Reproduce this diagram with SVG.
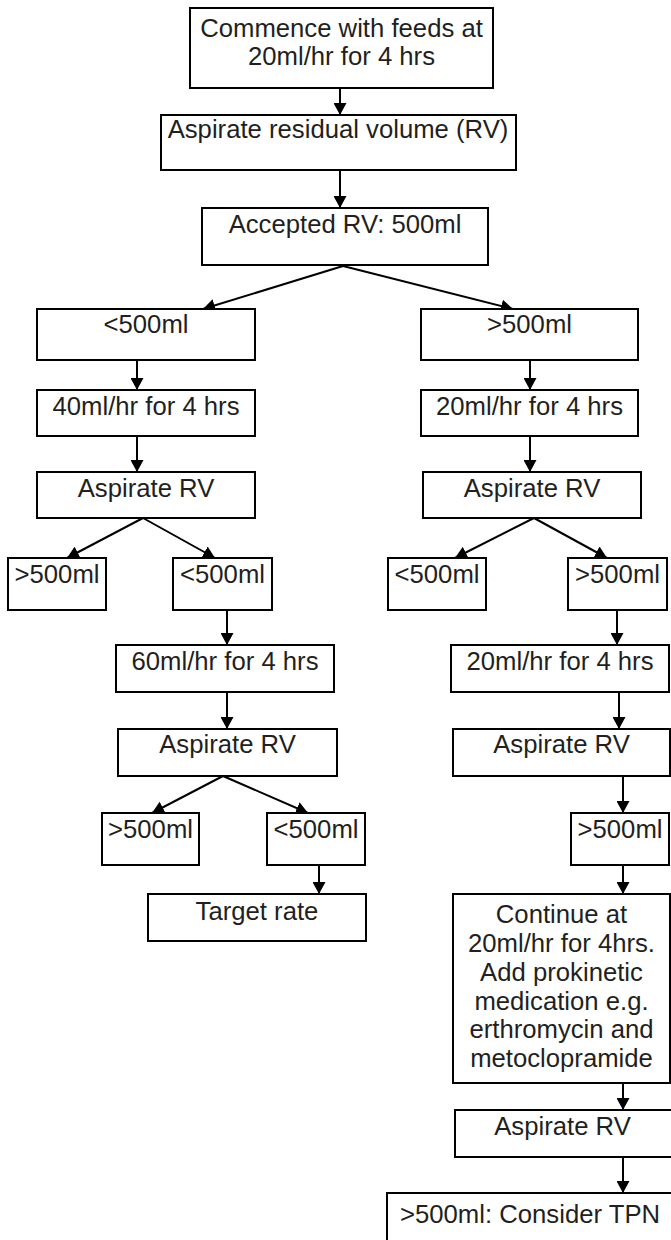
<svg xmlns="http://www.w3.org/2000/svg" width="671" height="1240" viewBox="0 0 671 1240">
<style>
.b{fill:#fff;stroke:#000;stroke-width:2}
.t{font-family:"Liberation Sans",Arial,sans-serif;font-size:25.7px;fill:#231f20;text-anchor:middle}
.c{stroke:#000;stroke-width:2;fill:none;marker-end:url(#ah)}
</style>
<defs>
<marker id="ah" markerUnits="userSpaceOnUse" markerWidth="13" markerHeight="13" refX="12" refY="6.5" orient="auto">
<path d="M0,0 L12,6.5 L0,13 z" fill="#000"/>
</marker>
</defs>
<rect width="671" height="1240" fill="#fff"/>
<g id="connectors">
<line class="c" x1="340" y1="88" x2="340" y2="115"/>
<line class="c" x1="340" y1="170" x2="340" y2="208"/>
<line class="c" x1="343" y1="266" x2="203" y2="309"/>
<line class="c" x1="343" y1="266" x2="513" y2="309"/>
<line class="c" x1="137" y1="360" x2="137" y2="390"/>
<line class="c" x1="137" y1="436" x2="137" y2="472"/>
<line class="c" x1="143" y1="518" x2="67" y2="558"/>
<line class="c" x1="143" y1="518" x2="215" y2="558"/>
<line class="c" x1="227" y1="610" x2="227" y2="645"/>
<line class="c" x1="227" y1="692" x2="227" y2="729"/>
<line class="c" x1="223" y1="776" x2="152" y2="813"/>
<line class="c" x1="223" y1="776" x2="308" y2="813"/>
<line class="c" x1="319" y1="865" x2="319" y2="894"/>
<line class="c" x1="530" y1="360" x2="530" y2="390"/>
<line class="c" x1="530" y1="436" x2="530" y2="472"/>
<line class="c" x1="534" y1="518" x2="455" y2="558"/>
<line class="c" x1="534" y1="518" x2="607" y2="558"/>
<line class="c" x1="617" y1="610" x2="617" y2="645"/>
<line class="c" x1="619" y1="692" x2="619" y2="729"/>
<line class="c" x1="623" y1="776" x2="623" y2="813"/>
<line class="c" x1="623" y1="865" x2="623" y2="894"/>
<line class="c" x1="623" y1="1083" x2="623" y2="1110"/>
<line class="c" x1="623" y1="1157" x2="623" y2="1193"/>
</g>
<g id="n1"><rect class="b" x="190" y="8" width="303" height="80"/><text class="t" x="341.5" y="37">Commence with feeds at</text><text class="t" x="341.5" y="65">20ml/hr for 4 hrs</text></g>
<g id="n2"><rect class="b" x="161" y="115" width="355" height="55"/><text class="t" x="338" y="138">Aspirate residual volume (RV)</text></g>
<g id="n3"><rect class="b" x="202" y="208" width="286" height="57"/><text class="t" x="345" y="233">Accepted RV: 500ml</text></g>
<g id="l1"><rect class="b" x="37" y="309" width="218" height="51"/><text class="t" x="146" y="333">&lt;500ml</text></g>
<g id="l2"><rect class="b" x="37" y="390" width="218" height="46"/><text class="t" x="146" y="415">40ml/hr for 4 hrs</text></g>
<g id="l3"><rect class="b" x="37" y="472" width="218" height="46"/><text class="t" x="146" y="497">Aspirate RV</text></g>
<g id="l4a"><rect class="b" x="8" y="558" width="98" height="52"/><text class="t" x="57" y="583">&gt;500ml</text></g>
<g id="l4b"><rect class="b" x="173" y="558" width="99" height="52"/><text class="t" x="222.5" y="583">&lt;500ml</text></g>
<g id="l5"><rect class="b" x="116" y="645" width="218" height="47"/><text class="t" x="225" y="670">60ml/hr for 4 hrs</text></g>
<g id="l6"><rect class="b" x="118" y="729" width="219" height="47"/><text class="t" x="227.5" y="753">Aspirate RV</text></g>
<g id="l7a"><rect class="b" x="102" y="813" width="97" height="52"/><text class="t" x="150.5" y="838">&gt;500ml</text></g>
<g id="l7b"><rect class="b" x="267" y="813" width="98" height="52"/><text class="t" x="316" y="838">&lt;500ml</text></g>
<g id="l8"><rect class="b" x="148" y="894" width="218" height="47"/><text class="t" x="257" y="920">Target rate</text></g>
<g id="r1"><rect class="b" x="421" y="309" width="217" height="51"/><text class="t" x="529.5" y="333">&gt;500ml</text></g>
<g id="r2"><rect class="b" x="421" y="390" width="217" height="46"/><text class="t" x="529.5" y="415">20ml/hr for 4 hrs</text></g>
<g id="r3"><rect class="b" x="423" y="472" width="218" height="46"/><text class="t" x="532" y="497">Aspirate RV</text></g>
<g id="r4a"><rect class="b" x="388" y="558" width="98" height="52"/><text class="t" x="437" y="583">&lt;500ml</text></g>
<g id="r4b"><rect class="b" x="568" y="558" width="99" height="52"/><text class="t" x="617.5" y="583">&gt;500ml</text></g>
<g id="r5"><rect class="b" x="451" y="645" width="218" height="47"/><text class="t" x="560" y="670">20ml/hr for 4 hrs</text></g>
<g id="r6"><rect class="b" x="453" y="729" width="217" height="47"/><text class="t" x="561.5" y="753">Aspirate RV</text></g>
<g id="r7"><rect class="b" x="571" y="813" width="98" height="52"/><text class="t" x="620" y="838">&gt;500ml</text></g>
<g id="r8"><rect class="b" x="453" y="894" width="217" height="189"/>
<text class="t" x="561.5" y="923">Continue at</text>
<text class="t" x="561.5" y="952">20ml/hr for 4hrs.</text>
<text class="t" x="561.5" y="981">Add prokinetic</text>
<text class="t" x="561.5" y="1010">medication e.g.</text>
<text class="t" x="561.5" y="1038">erthromycin and</text>
<text class="t" x="561.5" y="1067">metoclopramide</text></g>
<g id="r9"><rect class="b" x="455" y="1110" width="220" height="47"/><text class="t" x="562.5" y="1135">Aspirate RV</text></g>
<g id="r10"><rect class="b" x="387" y="1193" width="290" height="60"/><text class="t" x="400" y="1223" style="text-anchor:start">&gt;500ml: Consider TPN</text></g>
</svg>
